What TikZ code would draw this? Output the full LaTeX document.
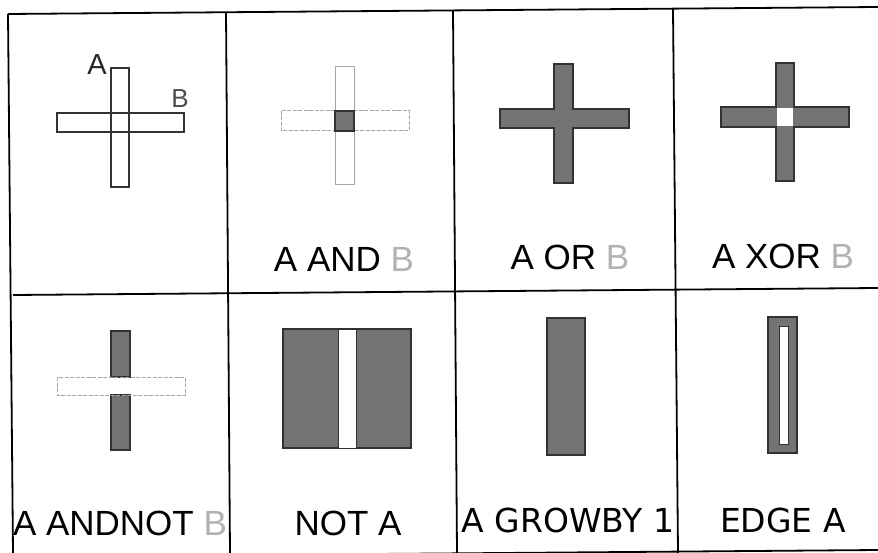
\documentclass[tikz,border=0pt]{standalone}
\usepackage{fontspec}
\setmainfont{Liberation Sans}
\newfontfamily\dvs{DejaVu Sans}
\definecolor{fillg}{RGB}{115,115,115}
\definecolor{edgeg}{RGB}{50,50,50}
\definecolor{lightg}{RGB}{165,165,165}
\definecolor{textb}{RGB}{178,178,178}
\begin{document}
\begin{tikzpicture}[x=1pt,y=-1pt,
  frame/.style={line width=1.8pt,black},
  solidbar/.style={fill=fillg,draw=edgeg,line width=1.2pt},
  hole/.style={fill=white,draw=edgeg,line width=0.8pt},
  outl/.style={draw=black!80,line width=1.3pt},
  faint/.style={draw=lightg,line width=1pt},
  faintdash/.style={draw=lightg,line width=1pt,dash pattern=on 4pt off 1.5pt},
  lbl/.style={inner sep=0pt,font=\fontsize{35}{38}\selectfont},
  lbld/.style={inner sep=0pt,font=\dvs\fontsize{33}{36}\selectfont}]
\useasboundingbox (0,0) rectangle (878,553);
\fill[white] (0,0) rectangle (878,553);
% grid
\draw[frame] (8,14) -- (878,7);
\draw[frame] (13,295) -- (878,288);
\draw[frame] (0,557) -- (878,550);
\draw[frame] (8,14) -- (13,553);
\draw[frame] (226,12) -- (230,553);
\draw[frame] (453,10) -- (457,553);
\draw[frame] (673,9) -- (678,553);
% cell 1: A and B outlines
\draw[outl] (111,68) rectangle (129,187);
\draw[outl] (57,113) rectangle (184,132);
\node[inner sep=0pt,font=\fontsize{29}{32}\selectfont,text=black!85] (la) at (97,65) {A};
\node[inner sep=0pt,font=\fontsize{26}{29}\selectfont,text=black!70] (lb) at (180,99) {B};
% cell 2: AND
\draw[faint] (335,67) rectangle (354,185);
\draw[faintdash] (281,111) rectangle (409,131);
\draw[solidbar] (335,111) rectangle (354,131);
\node[lbl] (t2) at (344,259) {A AND \textcolor{textb}{B}};
% cell 3: OR
\draw[solidbar] (554,64) -- (573,64) -- (573,109) -- (629,109) -- (629,128) -- (573,128)
  -- (573,183) -- (554,183) -- (554,128) -- (500,128) -- (500,109) -- (554,109) -- cycle;
\node[lbl] (t3) at (570,257) {A OR \textcolor{textb}{B}};
% cell 4: XOR
\draw[solidbar] (776,63) -- (794,63) -- (794,107) -- (849,107) -- (849,127) -- (794,127)
  -- (794,181) -- (776,181) -- (776,127) -- (721,127) -- (721,107) -- (776,107) -- cycle;
\fill[white] (776.6,107.6) rectangle (793.4,126.4);
\node[lbl] (t4) at (783,256) {A XOR \textcolor{textb}{B}};
% cell 5: ANDNOT
\draw[solidbar] (111,331) rectangle (130,377);
\draw[solidbar] (111,395) rectangle (130,450);
\draw[faintdash] (57,377) rectangle (185,395);
\node[lbl] (t5) at (120,523) {A ANDNOT \textcolor{textb}{B}};
% cell 6: NOT A
\draw[solidbar] (283,329) rectangle (411,448);
\draw[hole] (338,329) rectangle (356,448);
\node[lbl] (t6) at (348,523) {NOT A};
% cell 7: GROWBY
\draw[solidbar] (547,318) rectangle (585,455);
\node[lbld] (t7) at (568,520) {A GROWBY 1};
% cell 8: EDGE
\draw[solidbar] (768,317) rectangle (797,453);
\draw[hole] (779,326) rectangle (788,444);
\node[lbld] (t8) at (783,520) {EDGE A};
\end{tikzpicture}
\end{document}
